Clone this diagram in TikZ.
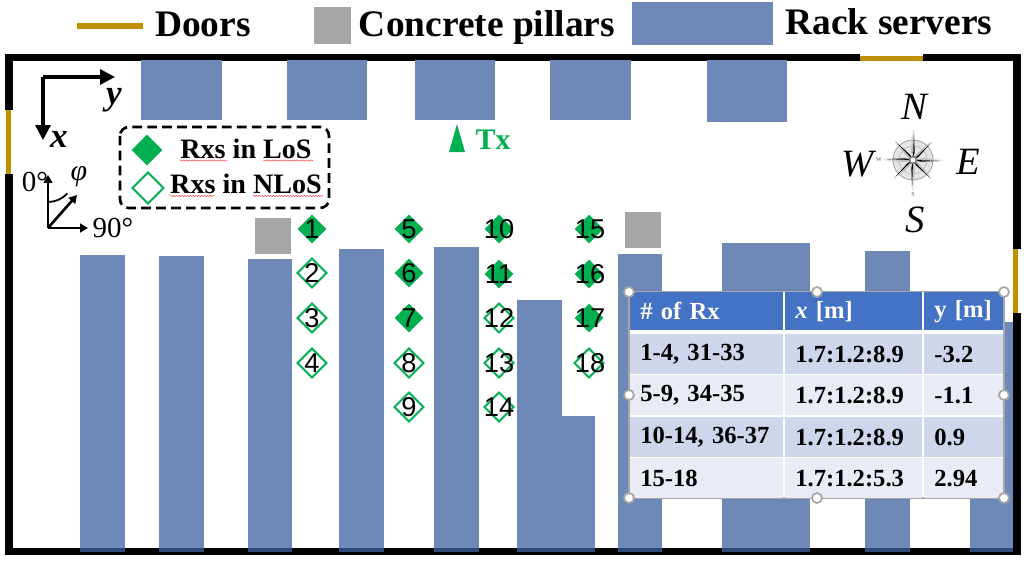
\documentclass[tikz,border=0pt]{standalone}
\usepackage{fontspec}
\setmainfont{Liberation Serif}
\newfontfamily\numfont{Liberation Sans}
\usetikzlibrary{arrows.meta,shapes.geometric,decorations.pathmorphing}
\definecolor{rackblue}{HTML}{6E88B7}
\definecolor{rackdark}{HTML}{2F4A78}
\definecolor{doorgold}{HTML}{BF9000}
\definecolor{rxgreen}{HTML}{00B050}
\definecolor{pillargray}{HTML}{A6A6A6}
\definecolor{headblue}{HTML}{4472C4}
\definecolor{banddark}{HTML}{CFD5EA}
\definecolor{bandlight}{HTML}{E9EBF5}
\tikzset{
  wall/.style={line width=4.25pt,black,line join=miter},
  door/.style={line width=2.9pt,doorgold},
  rack/.style={fill=rackblue,draw=none},
  rackend/.style={fill=rackdark,draw=none},
  pillar/.style={fill=pillargray,draw=none},
  los/.style={diamond,fill=rxgreen,draw=rxgreen,line width=.3pt,inner sep=0pt,minimum width=.56cm,minimum height=.56cm},
  nlos/.style={diamond,fill=white,draw=rxgreen,line width=1.1pt,inner sep=0pt,minimum width=.6cm,minimum height=.6cm},
  rxnum/.style={font=\numfont\fontsize{15.5}{17}\selectfont,inner sep=0pt,black},
  bigtxt/.style={font=\fontsize{21.3}{24}\selectfont\bfseries,inner sep=0pt,anchor=base},
  keytxt/.style={font=\fontsize{16}{18}\selectfont\bfseries,inner sep=0pt,anchor=base},
  dirtxt/.style={font=\fontsize{22}{24}\selectfont\itshape,inner sep=0pt},
  axtxt/.style={font=\fontsize{20}{22}\selectfont\bfseries\itshape,inner sep=0pt},
  angtxt/.style={font=\fontsize{16.5}{18}\selectfont,inner sep=0pt},
  bigax/.style={line width=1.9pt,-{Triangle[length=8.5pt,width=8.5pt]}},
  smallax/.style={line width=1.5pt,-{Triangle[length=4.5pt,width=5pt]}},
  squiggle/.style={red!70!white,line width=.3pt,decorate,decoration={snake,amplitude=.35pt,segment length=1.6pt}},
  cell/.style={anchor=north west,inner xsep=.2cm,inner ysep=0pt,align=left,minimum height=.79cm,font=\fontsize{14}{16}\selectfont\bfseries,text=black},
  colone/.style={cell,text width=2.66cm,minimum width=3.06cm},
  coltwo/.style={cell,text width=2.34cm,minimum width=2.74cm},
  colthree/.style={cell,text width=1.18cm,minimum width=1.58cm},
  handle/.style={circle,fill=white,draw=pillargray,line width=1pt,inner sep=0pt,minimum size=.2cm},
  point/.style={fill=black,draw=none},
  ptlight/.style={fill=gray!60,draw=none},
  tinytxt/.style={font=\fontsize{3.5}{4}\selectfont,inner sep=0pt,text=gray!70!black}
}
\begin{document}
\begin{tikzpicture}[x=0.02cm,y=-0.02cm]
\useasboundingbox (0,0) rectangle (1024,561);

% walls and doors
\draw [wall] (860,57.5) -- (9,57.5) -- (9,110);
\draw [wall] (9,174) -- (9,551.5) -- (1017,551.5) -- (1017,313);
\draw [wall] (1017,249) -- (1017,57.5) -- (923,57.5);
\draw [door] (8.5,110) -- (8.5,174);
\draw [door] (860,58.5) -- (923,58.5);
\draw [door] (1015.5,249) -- (1015.5,313);

% legend on top
\draw [door] (77,26) -- (143,26);
\node [bigtxt] (doorstxt) at (203,36) {Doors};
\draw [pillar] (314,7) rectangle (351,44);
\node [bigtxt] (pillarstxt) at (487,36) {Concrete pillars};
\draw [rack] (632,2) rectangle (773,45);
\node [bigtxt] (rackstxt) at (889,34) {Rack servers};

% racks, top row
\draw [rack] (141,60) rectangle (222,120);
\draw [rack] (287,60) rectangle (367,120);
\draw [rack] (415,60) rectangle (495,120);
\draw [rack] (550,60) rectangle (631,120);
\draw [rack] (707,60) rectangle (787,122);

% racks, long rows
\draw [rack] (80,255) rectangle (125,548);
\draw [rack] (159,256) rectangle (204,548);
\draw [rack] (248,259) rectangle (292,548);
\draw [rack] (339,249) rectangle (384,548);
\draw [rack] (434,247) rectangle (479,548);
\draw [rack] (517,300) rectangle (562,548);
\draw [rack] (562,416) rectangle (595,548);
\draw [rack] (618,254) rectangle (662,548);
\draw [rack] (722,243) rectangle (810,548);
\draw [rack] (865,251) rectangle (910,548);
\draw [rack] (970,322) rectangle (1013,548);
\draw [rackend] (80,548) rectangle (125,552);
\draw [rackend] (159,548) rectangle (204,552);
\draw [rackend] (248,548) rectangle (292,552);
\draw [rackend] (339,548) rectangle (384,552);
\draw [rackend] (434,548) rectangle (479,552);
\draw [rackend] (517,548) rectangle (595,552);
\draw [rackend] (618,548) rectangle (662,552);
\draw [rackend] (722,548) rectangle (810,552);
\draw [rackend] (865,548) rectangle (910,552);
\draw [rackend] (970,548) rectangle (1013,552);

% pillars
\draw [pillar] (255,218) rectangle (291,254);
\draw [pillar] (625,212) rectangle (661,248);

% axes
\coordinate (a0) at (43,77);
\coordinate (a1) at (115,77);
\coordinate (a2) at (43,140);
\draw [bigax] (a0) -- (a1);
\draw [bigax] (a0) -- (a2);
\node [axtxt] (ylbl) at (114,100) {y};
\node [axtxt] (xlbl) at (59,139) {x};

% angle convention
\node [angtxt] (zerolbl) at (35,182) {0°};
\node [angtxt] (ninetylbl) at (113,228) {90°};
\node [angtxt,font=\fontsize{17}{18}\selectfont\itshape] (philbl) at (79,177) {φ};
\coordinate (b0) at (48,228);
\coordinate (b1) at (48,175);
\coordinate (b2) at (88,228);
\coordinate (b3) at (77,195);
\draw [smallax] (b0) -- (b1);
\draw [smallax] (b0) -- (b2);
\draw [smallax] (b0) -- (b3);
\draw [line width=1pt] (48,202) arc (90:42:26);

% Rx key
\draw [black,line width=1.5pt,dash pattern=on 5.5pt off 3pt,rounded corners=5pt] (120,127) rectangle (329,208);
\node [los,minimum width=.6cm,minimum height=.6cm] (k1) at (147,150) {};
\node [nlos,minimum width=.64cm,minimum height=.64cm] (k2) at (148,188) {};
\node [keytxt] (k1txt) at (246,158) {Rxs in LoS};
\node [keytxt] (k2txt) at (246,193) {Rxs in NLoS};
\draw [squiggle] (180,160.5) -- (227,160.5);
\draw [squiggle] (263,160.5) -- (313,160.5);
\draw [squiggle] (170,196) -- (214,196);
\draw [squiggle] (253,196) -- (323,196);

% Tx
\draw [fill=rxgreen,draw=none] (449,152) -- (457,124) -- (465,152) -- cycle;
\node [keytxt,font=\fontsize{17}{18}\selectfont\bfseries,text=rxgreen] (txlbl) at (493,149) {Tx};

% Rx positions
\node [los] (v1) at (312,229) {};
\node [nlos] (v2) at (312,273) {};
\node [nlos] (v3) at (312,318) {};
\node [nlos] (v4) at (312,363) {};
\node [los] (v5) at (409,229) {};
\node [los] (v6) at (409,273) {};
\node [los] (v7) at (409,318) {};
\node [nlos] (v8) at (409,363) {};
\node [nlos] (v9) at (409,407) {};
\node [los] (v10) at (499,229) {};
\node [los] (v11) at (499,274) {};
\node [nlos] (v12) at (499,318) {};
\node [nlos] (v13) at (499,363) {};
\node [nlos] (v14) at (499,407) {};
\node [los] (v15) at (589,229) {};
\node [los] (v16) at (589,274) {};
\node [los] (v17) at (589,318) {};
\node [nlos] (v18) at (589,363) {};
\node [rxnum] (n1) at (v1) {1};
\node [rxnum] (n2) at (v2) {2};
\node [rxnum] (n3) at (v3) {3};
\node [rxnum] (n4) at (v4) {4};
\node [rxnum] (n5) at (v5) {5};
\node [rxnum] (n6) at (v6) {6};
\node [rxnum] (n7) at (v7) {7};
\node [rxnum] (n8) at (v8) {8};
\node [rxnum] (n9) at (v9) {9};
\node [rxnum] (n10) at (v10) {10};
\node [rxnum] (n11) at (v11) {11};
\node [rxnum] (n12) at (v12) {12};
\node [rxnum] (n13) at (v13) {13};
\node [rxnum] (n14) at (v14) {14};
\node [rxnum] (n15) at (590,229) {15};
\node [rxnum] (n16) at (590,274) {16};
\node [rxnum] (n17) at (590,318) {17};
\node [rxnum] (n18) at (590,363) {18};

% compass
\draw [fill=gray!20,draw=gray!70,line width=.5pt] (913,160) circle (20);
\draw [draw=gray!60,line width=.3pt] (913,160) circle (14);
\foreach \a in {45,135,225,315} {
  \fill [point] (913,160) -- ++(\a+16:6) -- ++(\a-3:20) -- cycle;
  \fill [ptlight] (913,160) -- ++(\a-16:6) -- ++(\a+3:20) -- cycle;
}
\foreach \a in {0,90,180,270} {
  \fill [point] (913,160) -- ++(\a+12:8) -- ++(\a-2:22) -- cycle;
  \fill [ptlight] (913,160) -- ++(\a-12:8) -- ++(\a+2:22) -- cycle;
}
\draw [fill=white,draw=gray,line width=1pt] (913,160) circle (3.5);
\node [tinytxt] (wtiny) at (879,160) {W};
\node [tinytxt] (stiny) at (913,194) {S};
\node [dirtxt] (northlbl) at (914,107) {N};
\node [dirtxt] (westlbl) at (858,164) {W};
\node [dirtxt] (eastlbl) at (968,162) {E};
\node [dirtxt] (southlbl) at (915,220) {S};

% table
\draw [fill=white,draw=pillargray,line width=.8pt] (629,291.5) rectangle (1004,498);
\node [colone,fill=headblue,text=white,minimum height=.76cm] (h1) at (630,292) {\# of Rx};
\node [coltwo,fill=headblue,text=white,minimum height=.76cm] (h2) at (785,292) {\textit{x} [m]};
\node [colthree,fill=headblue,text=white,minimum height=.76cm] (h3) at (924,292) {y [m]};
\node [colone,fill=banddark] (c11) at (630,334) {1-4, 31-33};
\node [coltwo,fill=banddark] (c12) at (785,334) {1.7:1.2:8.9};
\node [colthree,fill=banddark] (c13) at (924,334) {-3.2};
\node [colone,fill=bandlight] (c21) at (630,375) {5-9, 34-35};
\node [coltwo,fill=bandlight] (c22) at (785,375) {1.7:1.2:8.9};
\node [colthree,fill=bandlight] (c23) at (924,375) {-1.1};
\node [colone,fill=banddark] (c31) at (630,417) {10-14, 36-37};
\node [coltwo,fill=banddark] (c32) at (785,417) {1.7:1.2:8.9};
\node [colthree,fill=banddark] (c33) at (924,417) {0.9};
\node [colone,fill=bandlight] (c41) at (630,458) {15-18};
\node [coltwo,fill=bandlight] (c42) at (785,458) {1.7:1.2:5.3};
\node [colthree,fill=bandlight] (c43) at (924,458) {2.94};

% selection handles
\node [handle] (s1) at (629,292) {};
\node [handle] (s2) at (817,292) {};
\node [handle] (s3) at (1004,292) {};
\node [handle] (s4) at (629,395) {};
\node [handle] (s5) at (1004,395) {};
\node [handle] (s6) at (629,498) {};
\node [handle] (s7) at (817,498) {};
\node [handle] (s8) at (1004,498) {};
\end{tikzpicture}
\end{document}
